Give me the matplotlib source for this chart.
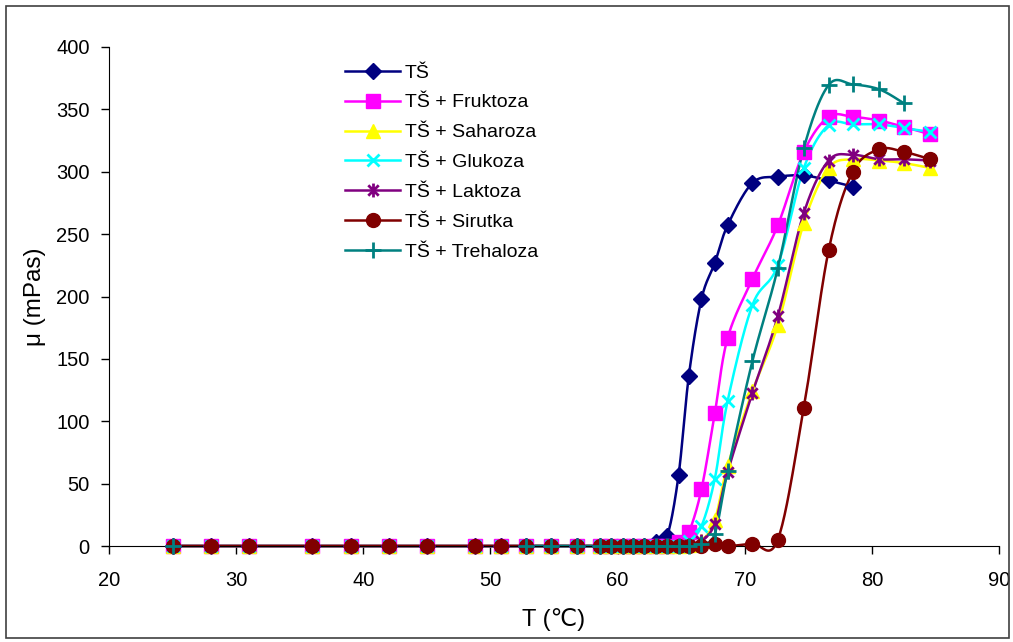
import numpy as np
import matplotlib
matplotlib.use('Agg')
import matplotlib.pyplot as plt
from matplotlib.path import Path
from matplotlib.patches import Rectangle

plt.rcParams['font.family'] = ['Liberation Sans', 'DejaVu Sans']

# temperature (°C), shared by all series
temp = [25, 28, 31, 36, 39, 42, 45, 48.8, 50.8, 52.8, 54.8, 56.8, 58.6, 59.5, 60.4,
        61.2, 62.1, 63.0, 63.9, 64.8, 65.6, 66.6, 67.65, 68.65, 70.6, 72.6, 74.65,
        76.6, 78.5, 80.6, 82.5, 84.6]

nan = np.nan
zeros = [0] * 19  # 25 .. 63.9

ts = zeros[:17] + [3, 8, 57, 136, 198, 227, 257, 291, 296, 297, 293, 288, nan, nan, nan]
fruktoza = zeros + [3, 11, 45.5, 106.6, 166.5, 214, 257, 316, 344, 344, 341, 336, 330]
saharoza = zeros + [0, 1, 4, 21, 64, 124, 177, 259, 303, 310, 309, 307, 303]
glukoza = zeros + [0, 4, 16, 54, 116, 193, 225, 303, 337.5, 338, 338, 335, 332]
laktoza = zeros + [0, 1, 4, 18, 59, 122.5, 184, 267, 309, 313.5, 310, 310, 309]
sirutka = zeros + [0, 0, 0, 2, 0, 2, 5, 111, 237, 300, 318, 316, 310]
trehaloza = [0] + [nan] * 8 + [0] * 10 + [0, 0, 1.6, 10, 60, 148, 222.6, 319, 369.5, 370, 366, 355, nan]

labels = ['TŠ', 'TŠ + Fruktoza', 'TŠ + Saharoza', 'TŠ + Glukoza', 'TŠ + Laktoza',
          'TŠ + Sirutka', 'TŠ + Trehaloza']
colors = ['#000080', '#FF00FF', '#FFFF00', '#00FFFF', '#800080', '#800000', '#008080']

# Excel-like star marker (x with a vertical bar)
star = Path([(0, -1), (0, 1), (-0.75, -0.75), (0.75, 0.75), (-0.75, 0.75), (0.75, -0.75)],
            [Path.MOVETO, Path.LINETO, Path.MOVETO, Path.LINETO, Path.MOVETO, Path.LINETO])
markers = ['D', 's', '^', 'x', star, 'o', '+']
msizes = [8.5, 9.5, 10, 9, 10, 10, 11]


def smooth(x, y, n=24):
    # Excel-style smoothed line: cubic Bezier through the points
    x = np.asarray(x, float)
    y = np.asarray(y, float)
    if len(x) < 2:
        return x, y
    P = np.column_stack([x, y])
    out = [P[:1]]
    t = np.linspace(0, 1, n)[1:, None]
    for i in range(len(P) - 1):
        p0 = P[i - 1] if i > 0 else P[i]
        p1, p2 = P[i], P[i + 1]
        p3 = P[i + 2] if i + 2 < len(P) else P[i + 1]
        c1 = p1 + (p2 - p0) / 6
        c2 = p2 - (p3 - p1) / 6
        seg = ((1 - t) ** 3) * p1 + 3 * ((1 - t) ** 2) * t * c1 + 3 * (1 - t) * t ** 2 * c2 + t ** 3 * p2
        out.append(seg)
    pts = np.vstack(out)
    return pts[:, 0], pts[:, 1]


fig = plt.figure(figsize=(10.13, 6.42), dpi=100)
ax = fig.add_axes([109 / 1013, 1 - 546 / 642, 890 / 1013, 499 / 642])

series = [ts, fruktoza, saharoza, glukoza, laktoza, sirutka, trehaloza]
handles = []
for ys, lab, col, mk, ms in zip(series, labels, colors, markers, msizes):
    x = np.array(temp, float)
    y = np.array(ys, float)
    ok = ~np.isnan(y)
    # split into contiguous runs (gaps break the line)
    idx = np.where(ok)[0]
    runs = np.split(idx, np.where(np.diff(idx) != 1)[0] + 1)
    for r in runs:
        sx, sy = smooth(x[r], y[r])
        ax.plot(sx, sy, color=col, lw=1.8, clip_on=False, zorder=2)
    mew = 2 if mk in ('x', '+') or mk is star else 1
    ax.plot(x[ok], y[ok], ls='none', marker=mk, ms=ms, color=col, mec=col,
            mew=mew, clip_on=False, zorder=3)
    h, = ax.plot([], [], color=col, lw=1.8, marker=mk, ms=ms, mec=col, mew=mew, label=lab)
    handles.append(h)

ax.set_xlim(20, 90)
ax.set_ylim(0, 400)
ax.set_xticks(np.arange(20, 91, 10))
ax.set_yticks(np.arange(0, 401, 50))
ax.spines['top'].set_visible(False)
ax.spines['right'].set_visible(False)
ax.tick_params(direction='out', length=6, width=1, labelsize=14.5)
ax.tick_params(axis='x', pad=12)
ax.tick_params(axis='y', pad=8)

ax.set_xlabel('T (℃)', fontsize=17)
ax.set_ylabel('μ (mPas)', fontsize=17.5)
ax.xaxis.set_label_coords(0.5, (546 - 620) / 499)
ax.xaxis.label.set_va('center')
ax.yaxis.set_label_coords((35 - 109) / 890, 0.5)
ax.yaxis.label.set_va('center')

ax.legend(handles=handles, loc='upper left', frameon=False, fontsize=14,
          bbox_to_anchor=((345 - 109) / 890, 1 - (64 - 47) / 499),
          borderpad=0, handlelength=2.83, handletextpad=0.26, labelspacing=0.63,
          borderaxespad=0)

fig.patches.append(Rectangle((6 / 1013, 4 / 642), 1003 / 1013, 632 / 642,
                             transform=fig.transFigure, fill=False, ec='#404040', lw=1.2))

plt.savefig('out.png', dpi=100)
